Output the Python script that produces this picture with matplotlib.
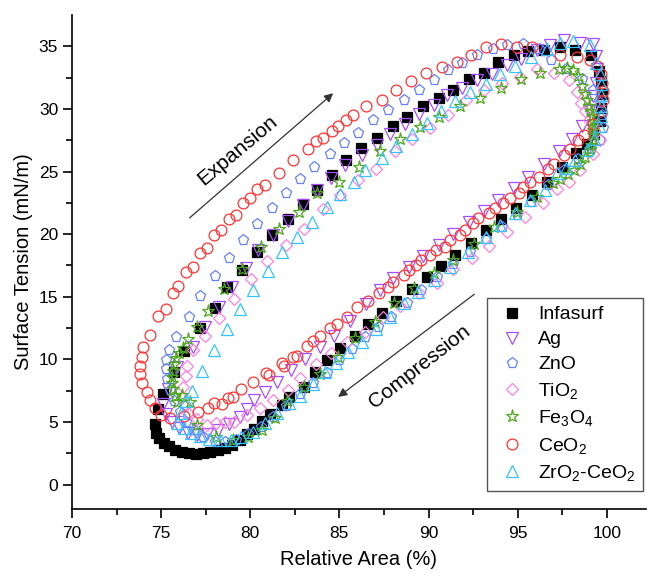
import numpy as np
import matplotlib
matplotlib.use("Agg")
import matplotlib.pyplot as plt

plt.rcParams["font.family"] = ["Liberation Sans", "DejaVu Sans"]
plt.rcParams["mathtext.fontset"] = "custom"
plt.rcParams["mathtext.rm"] = "Liberation Sans"
plt.rcParams["mathtext.it"] = "Liberation Sans:italic"
plt.rcParams["mathtext.default"] = "regular"

# Surface tension (mN/m) vs relative area (%) for each sample, (area, tension) pairs
infasurf = [
    (99.55, 33.0), (99.7, 32.2), (99.75, 31.2), (99.7, 30.1), (99.6, 29.0), (99.3, 28.0),
    (98.9, 27.2), (98.3, 26.5), (97.5, 25.4), (96.65, 24.2), (95.8, 23.1), (94.9, 22.05),
    (94.07, 21.2), (93.24, 20.3), (92.4, 19.3), (91.5, 18.35), (90.7, 17.45), (89.9, 16.55),
    (89.05, 15.6), (88.2, 14.65), (87.4, 13.7), (86.6, 12.8), (85.85, 11.85), (85.05, 10.9),
    (84.3, 9.95), (83.64, 9.0), (83.0, 7.8), (82.2, 7.0), (81.76, 6.35), (81.1, 5.6),
    (80.64, 5.1), (80.2, 4.45), (79.8, 4.0), (79.4, 3.55), (79.0, 3.2), (78.6, 2.95),
    (78.2, 2.75), (77.75, 2.6), (77.35, 2.5), (76.95, 2.45), (76.55, 2.5), (76.15, 2.62),
    (75.8, 2.8), (75.45, 3.05), (75.15, 3.35), (74.9, 3.7), (74.72, 4.15), (74.65, 4.85),
    (74.8, 6.0), (75.1, 7.2), (75.7, 9.0), (76.3, 10.7), (77.2, 12.5), (78.0, 14.1),
    (78.7, 15.8), (79.55, 17.1), (80.36, 18.6), (81.2, 19.9), (82.1, 21.2), (82.94, 22.4),
    (83.73, 23.5), (84.57, 24.7), (85.38, 25.96), (86.2, 26.9), (87.1, 27.7), (87.98, 28.6),
    (88.8, 29.36), (89.7, 30.2), (90.56, 30.9), (91.4, 31.55), (92.25, 32.35), (93.1, 32.9),
    (93.9, 33.75), (94.8, 34.3), (95.6, 34.6), (96.46, 34.7), (97.36, 34.95), (98.24, 34.7),
    (99.1, 34.3),
]

ag = [
    (75.1, 6.4), (75.4, 7.6), (75.9, 9.4), (76.8, 11.0), (77.45, 12.55), (78.26, 14.2),
    (78.95, 15.8), (79.76, 17.3), (80.45, 18.7), (81.3, 19.9), (82.1, 21.06), (82.98, 22.3),
    (83.73, 23.5), (84.55, 24.5), (85.3, 25.5), (86.26, 26.3), (87.1, 27.1), (87.85, 28.0),
    (88.7, 28.8), (89.44, 29.6), (90.28, 30.3), (91.03, 31.1), (91.9, 31.7), (92.7, 32.3),
    (93.56, 32.8), (94.4, 33.5), (95.2, 34.0), (96.1, 34.7), (96.8, 35.1), (97.6, 35.5),
    (98.5, 35.3), (99.2, 35.2), (99.4, 34.2), (99.45, 33.2), (99.4, 32.1), (99.25, 31.0),
    (99.0, 29.8), (98.6, 28.6), (98.06, 27.6), (97.3, 26.6), (96.46, 25.6), (95.6, 24.6),
    (94.8, 23.7), (93.9, 22.7), (93.1, 21.85), (92.25, 21.0), (91.4, 20.05), (90.6, 19.1),
    (89.7, 18.25), (88.9, 17.4), (88.0, 16.5), (87.3, 15.5), (86.5, 14.4), (85.6, 13.1),
    (84.7, 11.9), (83.9, 11.0), (83.07, 10.0), (82.3, 9.15), (81.5, 8.2), (80.8, 7.4),
    (80.2, 6.75), (79.8, 6.0), (79.4, 5.4), (78.8, 4.85), (78.2, 4.35), (77.6, 4.05),
    (77.0, 3.95), (76.5, 4.1), (76.0, 4.5), (75.6, 5.0), (75.3, 5.6),
]

zno = [
    (75.35, 8.4), (75.25, 9.2), (75.3, 9.95), (75.45, 10.75), (75.86, 11.8), (76.55, 13.4),
    (77.2, 15.05), (78.0, 16.65), (78.8, 18.1), (79.57, 19.5), (80.4, 20.8), (81.2, 22.1),
    (82.0, 23.3), (82.8, 24.4), (83.6, 25.4), (84.48, 26.4), (85.28, 27.3), (86.05, 28.05),
    (86.9, 29.15), (87.75, 29.9), (88.6, 30.75), (89.45, 31.5), (90.3, 32.3), (91.1, 33.1),
    (91.9, 33.7), (92.7, 34.3), (93.6, 34.8), (94.4, 35.1), (95.3, 35.2), (96.2, 34.75),
    (96.85, 33.9), (97.7, 33.2), (98.6, 32.4), (99.25, 31.5), (99.6, 30.5), (99.75, 29.5),
    (99.8, 28.5), (99.6, 27.5), (99.1, 26.8), (98.4, 26.0), (97.6, 25.1), (96.7, 23.95),
    (95.75, 22.6), (94.97, 21.5), (94.1, 20.55), (93.2, 19.6), (92.3, 18.6), (91.4, 17.6),
    (90.5, 16.6), (89.6, 15.55), (88.8, 14.5), (87.9, 13.4), (87.15, 12.55), (86.45, 11.8),
    (85.7, 10.85), (85.0, 9.95), (84.3, 8.9), (83.54, 8.1), (82.8, 7.2), (82.0, 6.3),
    (81.3, 5.4), (80.6, 4.6), (79.9, 4.0), (79.2, 3.6), (78.6, 3.4), (78.0, 3.4),
    (77.36, 3.8), (76.85, 4.35), (76.4, 5.0), (76.05, 5.8), (75.7, 6.7), (75.5, 7.55),
]

tio2 = [
    (76.2, 7.8), (76.4, 8.7), (76.43, 9.5), (76.8, 10.74), (77.45, 11.85), (78.24, 13.27),
    (79.1, 14.8), (80.05, 16.4), (80.95, 17.85), (82.0, 19.1), (83.0, 20.45), (84.1, 21.97),
    (85.04, 23.1), (86.05, 24.3), (87.06, 25.2), (88.1, 26.6), (89.07, 27.56), (90.1, 28.5),
    (91.1, 29.5), (92.1, 30.7), (93.1, 31.55), (94.1, 32.1), (95.15, 32.55), (96.1, 33.2),
    (97.05, 32.9), (97.87, 32.3), (98.35, 31.35), (98.55, 30.5), (98.75, 29.8), (99.0, 29.1),
    (99.3, 28.3), (99.6, 27.5), (99.2, 26.4), (98.5, 25.1), (97.87, 24.2), (97.2, 23.6),
    (96.4, 22.5), (95.4, 21.35), (94.4, 20.2), (93.4, 19.05), (92.44, 18.1), (91.4, 17.2),
    (90.45, 16.1), (89.44, 15.3), (88.4, 14.25), (87.43, 13.4), (86.44, 12.2), (85.4, 11.4),
    (84.55, 10.5), (83.7, 9.6), (82.8, 8.5), (82.1, 7.55), (81.3, 6.75), (80.55, 6.15),
    (79.8, 5.55), (79.1, 5.0), (78.6, 5.0), (78.1, 4.9), (77.55, 4.76), (77.0, 5.2),
    (76.5, 5.7), (76.33, 6.3), (76.15, 7.0),
]

fe3o4 = [
    (75.9, 6.6), (75.75, 7.1), (75.65, 7.6), (75.6, 8.1), (75.6, 8.6), (75.65, 9.1),
    (75.7, 9.6), (75.85, 10.1), (76.0, 10.5), (76.2, 10.9), (76.5, 11.6), (77.0, 12.55),
    (77.64, 13.9), (78.54, 15.6), (79.55, 17.2), (80.6, 19.0), (81.6, 20.45), (82.74, 21.8),
    (83.76, 23.25), (85.0, 24.2), (86.1, 25.4), (87.25, 26.6), (88.4, 27.56), (89.5, 28.56),
    (90.6, 29.36), (91.74, 30.2), (92.9, 30.9), (94.07, 31.7), (95.2, 32.35), (96.27, 32.9),
    (97.3, 33.2), (97.75, 33.3), (98.1, 33.1), (98.4, 32.6), (98.6, 31.8), (98.8, 31.2),
    (98.9, 30.7), (99.0, 30.2), (99.1, 29.8), (99.15, 29.4), (99.2, 29.0), (99.25, 28.6),
    (99.25, 28.3), (99.2, 27.9), (99.2, 27.5), (99.1, 27.1), (99.05, 26.8), (98.8, 26.2),
    (98.5, 25.6), (98.15, 25.1), (97.8, 24.8), (97.4, 24.4), (97.0, 24.05), (96.1, 23.0),
    (94.97, 21.8), (93.7, 20.6), (92.57, 19.25), (91.37, 17.9), (90.28, 16.9), (89.2, 15.7),
    (88.07, 14.5), (87.0, 13.0), (85.9, 11.7), (84.9, 10.15), (83.9, 8.85), (83.0, 7.8),
    (82.05, 6.65), (81.4, 5.3), (80.64, 4.36), (79.9, 3.8), (79.05, 3.6), (78.1, 3.8),
    (77.0, 4.75), (76.6, 6.6), (76.15, 7.15),
]

ceo2 = [
    (73.95, 8.1), (73.84, 8.8), (73.8, 9.5), (73.9, 10.2), (74.0, 11.0), (74.35, 11.95),
    (74.85, 13.5), (75.3, 14.0), (75.67, 15.3), (75.95, 15.85), (76.4, 17.0), (76.76, 17.4),
    (77.2, 18.5), (77.55, 18.9), (77.96, 19.9), (78.37, 20.3), (78.8, 21.2), (79.2, 21.5),
    (79.6, 22.5), (80.0, 22.85), (80.4, 23.6), (80.8, 23.96), (81.6, 24.9), (82.4, 25.9),
    (83.26, 26.8), (83.7, 27.4), (84.1, 27.7), (84.57, 28.2), (84.9, 28.6), (85.36, 29.15),
    (85.75, 29.5), (86.5, 30.2), (87.4, 30.75), (88.2, 31.5), (89.03, 32.2), (89.87, 32.9),
    (90.75, 33.35), (91.6, 33.75), (92.4, 34.3), (93.25, 34.95), (94.07, 35.2), (94.97, 34.95),
    (95.8, 34.95), (97.4, 34.3), (98.34, 34.15), (99.05, 33.9), (99.46, 33.4), (99.65, 32.8),
    (99.75, 32.1), (99.8, 31.4), (99.8, 30.7), (99.65, 29.8), (99.25, 28.8), (98.7, 27.9),
    (98.4, 27.5), (97.96, 26.8), (97.6, 26.3), (97.06, 25.6), (96.7, 25.2), (96.2, 24.6),
    (95.7, 24.2), (95.3, 23.8), (95.05, 23.3), (94.55, 22.85), (94.2, 22.5), (93.75, 22.05),
    (93.4, 21.7), (92.8, 21.25), (92.5, 20.85), (92.06, 20.3), (91.74, 19.9), (91.2, 19.5),
    (90.9, 19.0), (90.4, 18.7), (90.1, 18.3), (89.6, 17.9), (89.3, 17.5), (88.9, 17.1),
    (88.6, 16.7), (88.03, 16.2), (87.7, 15.8), (87.2, 15.3), (86.6, 14.7), (86.0, 14.2),
    (85.4, 13.4), (84.85, 12.8), (84.5, 12.5), (83.9, 11.9), (83.5, 11.5), (83.17, 11.1),
    (82.6, 10.3), (82.4, 10.2), (81.9, 9.5), (81.76, 9.7), (81.07, 8.75), (80.9, 8.9),
    (80.17, 8.2), (79.5, 7.65), (79.05, 6.97), (78.76, 6.9), (78.4, 6.4), (77.96, 6.5),
    (77.64, 6.1), (77.07, 5.8), (76.3, 5.5), (75.5, 5.3), (75.0, 5.55), (74.65, 6.1),
    (74.37, 6.75), (74.2, 7.4),
]

zro2_ceo2 = [
    (76.4, 6.7), (76.75, 7.5), (77.27, 9.1), (77.96, 10.74), (78.67, 12.4), (79.4, 14.05),
    (80.17, 15.55), (80.98, 17.05), (81.76, 18.55), (82.6, 19.8), (83.45, 21.0), (84.3, 22.2),
    (85.05, 23.2), (85.8, 24.2), (86.44, 25.1), (87.4, 26.1), (88.2, 27.0), (89.07, 28.0),
    (89.9, 28.9), (90.7, 29.8), (91.5, 30.6), (92.3, 31.35), (93.2, 32.0), (94.0, 32.75),
    (94.87, 33.45), (95.75, 34.15), (96.65, 34.8), (97.36, 35.3), (98.1, 35.4), (99.05, 35.1),
    (99.37, 33.7), (99.6, 32.8), (99.65, 32.0), (99.7, 31.1), (99.7, 30.2), (99.65, 29.4),
    (99.55, 28.6), (99.3, 27.6), (98.9, 26.7), (98.2, 25.9), (97.7, 25.3), (97.2, 24.85),
    (96.56, 23.5), (95.7, 22.7), (94.87, 21.65), (94.0, 20.7), (93.2, 19.8), (92.2, 18.6),
    (91.2, 17.4), (90.3, 16.3), (89.4, 15.4), (88.6, 14.5), (87.85, 13.4), (87.05, 12.4),
    (86.26, 11.4), (85.5, 10.6), (84.8, 9.7), (84.2, 9.0), (83.5, 8.0), (82.8, 7.1),
    (82.2, 6.5), (81.5, 5.7), (80.8, 4.9), (80.17, 4.2), (79.5, 3.8), (78.9, 3.6),
    (78.3, 3.55), (77.7, 3.65), (77.2, 3.85), (76.7, 4.15), (76.3, 4.55), (75.9, 4.9),
    (76.1, 5.7),
]

labels = ["Infasurf", "Ag", "ZnO", "TiO$_2$", "Fe$_3$O$_4$", "CeO$_2$", "ZrO$_2$-CeO$_2$"]
series = [infasurf, ag, zno, tio2, fe3o4, ceo2, zro2_ceo2]

# marker, colour, filled, size
styles = [
    ("s", "#000000", True, 6.5),
    ("v", "#a64dff", False, 8.0),
    ("p", "#6680ff", False, 8.0),
    ("D", "#ff80dd", False, 6.5),
    ("*", "#4fa81e", False, 9.5),
    ("o", "#ff3333", False, 7.8),
    ("^", "#33c4ff", False, 8.0),
]

fig = plt.figure(figsize=(6.47, 5.76), dpi=100)
ax = fig.add_axes([72 / 647, 67 / 576, 574 / 647, 494 / 576])

handles = []
for pts, lab, (mk, col, filled, ms) in zip(series, labels, styles):
    arr = np.array(pts)
    h, = ax.plot(arr[:, 0], arr[:, 1], linestyle="none", marker=mk, markersize=ms,
                 markerfacecolor=col if filled else "none", markeredgecolor=col,
                 markeredgewidth=0.9, label=lab)
    handles.append(h)

ax.set_xlim(70, 102.2)
ax.set_ylim(-1.95, 37.5)
ax.set_xticks(np.arange(70, 101, 5))
ax.set_yticks(np.arange(0, 36, 5))
ax.set_xticks(np.arange(72.5, 102, 5), minor=True)
ax.set_yticks(np.arange(2.5, 37, 5), minor=True)
for s in ("top", "right"):
    ax.spines[s].set_visible(False)
for s in ("left", "bottom"):
    ax.spines[s].set_linewidth(1.2)
ax.tick_params(which="major", direction="out", length=6.5, width=1.2, labelsize=12.5)
ax.tick_params(which="minor", direction="out", length=4, width=1.2)
ax.tick_params(axis="x", pad=6)

ax.set_xlabel("Relative Area (%)", fontsize=14.5, labelpad=6)
ax.set_ylabel("Surface Tension (mN/m)", fontsize=14.5, labelpad=4)

# direction arrows and their labels
ax.annotate("", xy=(84.65, 31.25), xytext=(76.6, 21.3),
            arrowprops=dict(arrowstyle="-|>", color="#333333", lw=0.9,
                            mutation_scale=13, shrinkA=0, shrinkB=0))
ax.text(79.3, 26.7, "Expansion", rotation=40, fontsize=15, ha="center", va="center",
        rotation_mode="anchor")
ax.annotate("", xy=(84.93, 7.0), xytext=(92.57, 15.2),
            arrowprops=dict(arrowstyle="-|>", color="#333333", lw=0.9,
                            mutation_scale=13, shrinkA=0, shrinkB=0))
ax.text(89.5, 9.4, "Compression", rotation=38, fontsize=15, ha="center", va="center",
        rotation_mode="anchor")

leg = ax.legend(handles=handles, loc="upper left", bbox_to_anchor=(0.7225, 0.427),
                frameon=True, fancybox=False, fontsize=14, numpoints=1,
                handlelength=1.8, handletextpad=0.45, borderpad=0.4,
                labelspacing=0.38, borderaxespad=0, framealpha=1)
leg.get_frame().set_edgecolor("#555555")
leg.get_frame().set_linewidth(1.0)

fig.savefig("out.png", dpi=100)
